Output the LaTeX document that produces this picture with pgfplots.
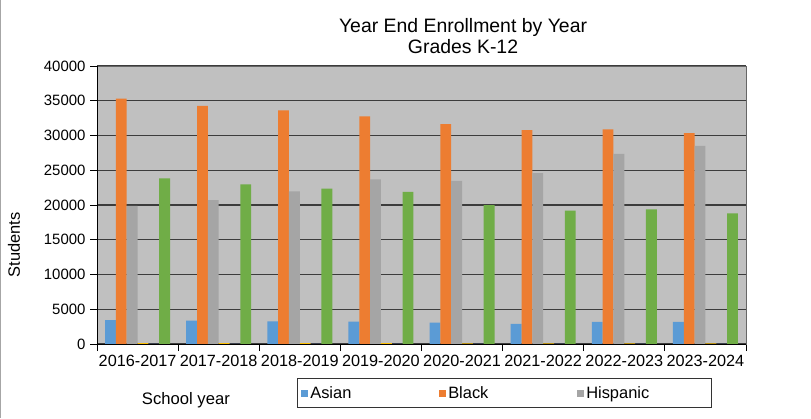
\documentclass[border=0pt]{standalone}
\usepackage{pgfplots}
\pgfplotsset{compat=1.18}
\usepackage{fontspec}
\setmainfont{Liberation Sans}
\definecolor{cAsian}{HTML}{5B9BD5}
\definecolor{cBlack}{HTML}{ED7D31}
\definecolor{cHisp}{HTML}{A5A5A5}
\definecolor{cNat}{HTML}{FFC000}
\definecolor{cPac}{HTML}{4472C4}
\definecolor{cWhite}{HTML}{70AD47}
\definecolor{plotbg}{HTML}{C0C0C0}
\definecolor{gridc}{HTML}{3C3C3C}
\begin{document}
\begin{tikzpicture}[x=1bp,y=1bp]
\useasboundingbox (0,0) rectangle (811,-418);
\draw[gray!70, line width=1bp] (0.5,0) -- (0.5,-418);
\begin{axis}[
  at={(97bp,-344bp)}, anchor=south west,
  scale only axis, width=649bp, height=278bp,
  ybar=0pt, bar width=0.1335,
  xmin=-0.5, xmax=7.5, ymin=0, ymax=40000,
  xtick={0,...,7},
  xticklabels={2016-2017,2017-2018,2018-2019,2019-2020,2020-2021,2021-2022,2022-2023,2023-2024},
  minor xtick={-0.5,0.5,...,7.5},
  major x tick style={draw=none},
  minor x tick style={black, line width=0.8bp},
  minor tick length=7bp,
  ytick={0,5000,...,40000},
  y tick style={black, line width=0.8bp},
  major tick length=7bp,
  tick align=outside,
  xtick pos=left, ytick pos=left,
  scaled y ticks=false,
  /pgf/number format/1000 sep={},
  /pgf/number format/assume math mode=true,
  yticklabel style={font=\fontsize{15}{17}\selectfont, xshift=-1bp},
  xticklabel style={font=\fontsize{16.3}{19}\selectfont, yshift=-1bp},
  ymajorgrids, major grid style={gridc, line width=1.1bp},
  axis background/.style={fill=plotbg},
  axis line style={gray!80!black, line width=0.8bp},
  title={Year End Enrollment by Year\\Grades K-12},
  title style={font=\fontsize{19.5}{21.5}\selectfont, align=center, at={(axis description cs:0.564,1.087)}, anchor=center},
  ylabel={Students},
  ylabel style={font=\fontsize{16.5}{18}\selectfont, at={(axis description cs:-0.128,0.356)}, anchor=center},
  xlabel={School year},
  xlabel style={font=\fontsize{16.7}{19}\selectfont, at={(axis description cs:0.137,-0.201)}, anchor=center},
  legend columns=3,
  legend style={at={(axis description cs:0.308,-0.122)}, anchor=north west,
    draw=black!80, line width=0.8bp, font=\fontsize{16.5}{19}\selectfont,
    inner xsep=4bp, inner ysep=6bp,
    /tikz/every even column/.append style={column sep=0bp}},
  legend image code/.code={\fill[#1,draw=none] (0bp,-4bp) rectangle (7bp,3.5bp);},
]
\addplot[fill=cAsian, draw=none] coordinates {(0,3420) (1,3370) (2,3270) (3,3220) (4,3080) (5,2890) (6,3180) (7,3180)};
\addlegendentry{\makebox[127bp][l]{Asian}}
\addplot[fill=cBlack, draw=none] coordinates {(0,35300) (1,34280) (2,33600) (3,32750) (4,31640) (5,30780) (6,30870) (7,30340)};
\addlegendentry{\makebox[127bp][l]{Black}}
\addplot[fill=cHisp, draw=none] coordinates {(0,19860) (1,20720) (2,21980) (3,23700) (4,23470) (5,24580) (6,27360) (7,28520)};
\addlegendentry{\makebox[119bp][l]{Hispanic}}
\addplot[fill=cNat, draw=none] coordinates {(0,120) (1,120) (2,120) (3,115) (4,110) (5,110) (6,110) (7,110)};
\addplot[fill=cPac, draw=none] coordinates {(0,15) (1,15) (2,15) (3,15) (4,15) (5,15) (6,15) (7,15)};
\addplot[fill=cWhite, draw=none] coordinates {(0,23850) (1,22980) (2,22360) (3,21880) (4,20000) (5,19190) (6,19380) (7,18800)};
\draw[black, line width=0.8bp] (rel axis cs:0,0) -- (rel axis cs:0,1);
\draw[black, line width=0.8bp] (rel axis cs:0,0) -- (rel axis cs:1,0);
\end{axis}
\end{tikzpicture}
\end{document}
